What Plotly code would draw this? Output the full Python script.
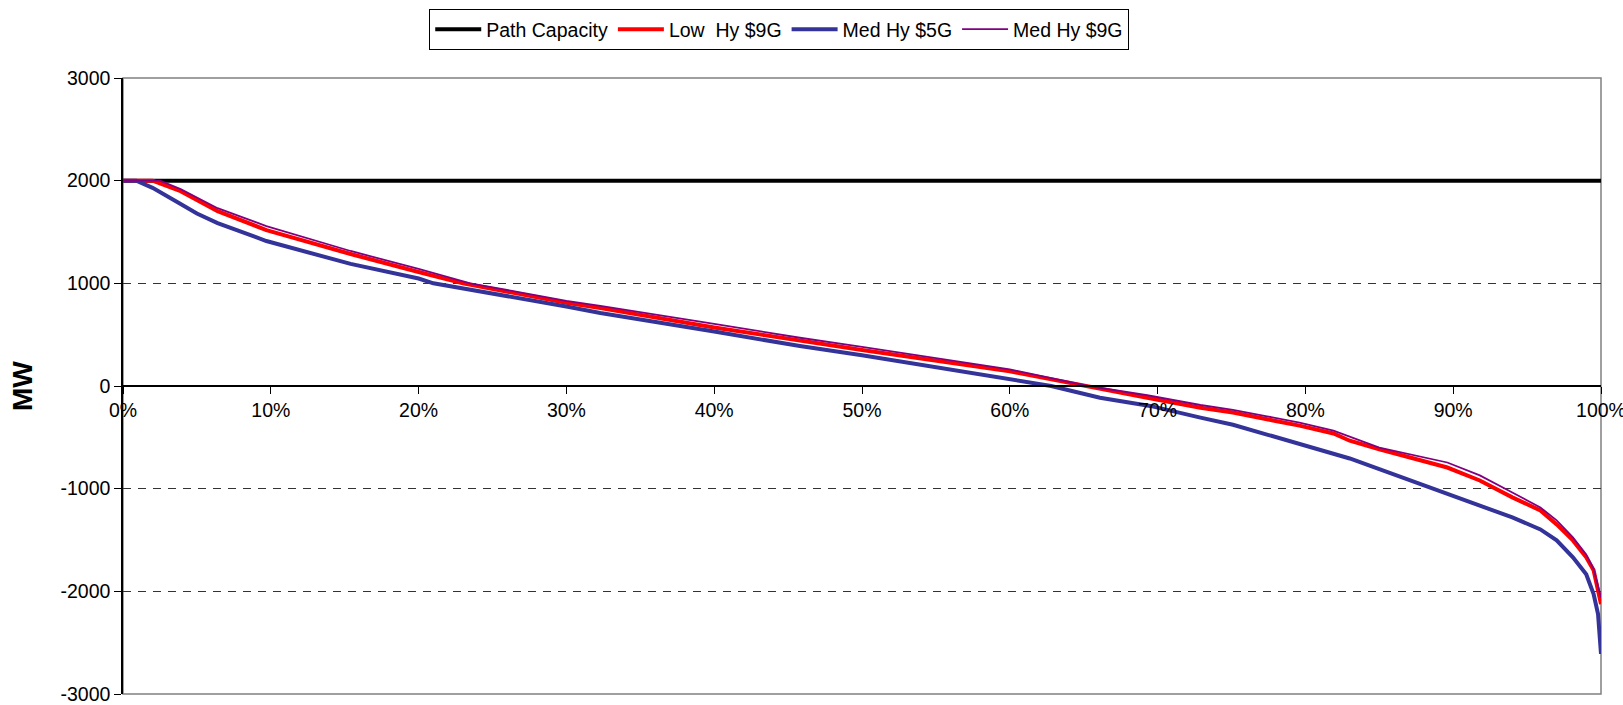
import plotly.graph_objects as go

# Share of hours (%) on the x axis, flow in MW on the y axis
cap_pct = [0, 100]
cap_mw = [2000, 2000]

low9_pct = [0, 2.0, 3.9, 6.4, 9.7, 15.4, 20, 23, 30, 32.3, 40, 45.8, 50, 60, 65, 69.3,
            72.9, 75.1, 77.4, 79.6, 81.9, 83, 85, 89.6, 91.8, 94, 95.9, 97, 98.1, 99, 99.5, 100]
low9_mw = [2000, 2000, 1898, 1704, 1519, 1286, 1110, 1000, 810, 760, 570, 440, 350, 143, 0, -114,
           -211, -259, -324, -386, -463, -533, -616, -794, -920, -1085, -1212, -1348, -1504, -1668, -1795, -2125]

med5_pct = [0, 0.9, 2.0, 3.0, 3.6, 3.9, 5.0, 6.4, 9.7, 15.4, 20, 21, 30, 32.3, 40, 45.8, 50, 60, 62.8, 66.1,
            69.5, 72.9, 75.1, 77.4, 79.6, 81.9, 83, 85, 89.6, 91.8, 94, 95.9, 97, 98.1, 99, 99.5, 99.8, 100]
med5_mw = [2000, 2000, 1930, 1850, 1805, 1772, 1680, 1587, 1412, 1189, 1047, 1000, 775, 711, 530, 390, 300, 70, 0, -114,
           -194, -308, -378, -473, -567, -665, -706, -810, -1047, -1164, -1280, -1397, -1504, -1668, -1833, -2027, -2222, -2610]

med9_pct = [0, 2.5, 3.9, 6.4, 9.7, 15.4, 20, 23.5, 30, 32.3, 40, 45.8, 50, 60, 65.3, 69.3,
            72.9, 75.1, 77.4, 79.6, 81.9, 83, 85, 89.6, 91.8, 94, 95.9, 97, 98.1, 99, 99.5, 100]
med9_mw = [2000, 2000, 1917, 1732, 1558, 1315, 1140, 1000, 830, 780, 605, 470, 382, 162, 0, -90,
           -185, -232, -295, -357, -435, -495, -600, -745, -871, -1037, -1183, -1309, -1474, -1640, -1780, -2060]

y_ticks = [-3000, -2000, -1000, 0, 1000, 2000, 3000]
y_labels = ["-3000", "-2000", "-1000", "0", "1000", "2000", "3000"]
x_ticks = [0, 10, 20, 30, 40, 50, 60, 70, 80, 90, 100]
x_labels = ["0%", "10%", "20%", "30%", "40%", "50%", "60%", "70%", "80%", "90%", "100%"]

FONT = "Liberation Sans, Arial, sans-serif"

fig = go.Figure()
fig.add_trace(go.Scatter(x=cap_pct, y=cap_mw, mode="lines", name="Path Capacity",
                         line=dict(color="#000000", width=4)))
fig.add_trace(go.Scatter(x=low9_pct, y=low9_mw, mode="lines", name="Low  Hy $9G",
                         line=dict(color="#FF0000", width=4)))
fig.add_trace(go.Scatter(x=med5_pct, y=med5_mw, mode="lines", name="Med Hy $5G",
                         line=dict(color="#333399", width=4)))
fig.add_trace(go.Scatter(x=med9_pct, y=med9_mw, mode="lines", name="Med Hy $9G",
                         line=dict(color="#800080", width=1.8)))

fig.update_layout(
    width=1623, height=705,
    margin=dict(l=123, r=22, t=78, b=11, autoexpand=False),
    paper_bgcolor="white", plot_bgcolor="white",
    font=dict(family=FONT, size=19.5, color="#000000"),
    showlegend=True,
    legend=dict(orientation="h", x=0.444, xanchor="center", y=1.112, yanchor="top",
                bordercolor="#000000", borderwidth=1, bgcolor="white",
                font=dict(family=FONT, size=19.5), itemwidth=46, tracegroupgap=0),
    xaxis=dict(range=[0, 100], tickvals=x_ticks, ticktext=x_labels,
               anchor="free", position=0.5, showline=True, linecolor="#000000", linewidth=1.5,
               ticks="outside", ticklen=7, tickcolor="#000000", tickwidth=1,
               showgrid=False, zeroline=False, tickfont=dict(size=19.5),
               ticklabeloverflow="allow"),
    yaxis=dict(range=[-3000, 3000], tickvals=y_ticks, ticktext=y_labels,
               showline=True, linecolor="#000000", linewidth=1.5,
               ticks="outside", ticklen=7, tickcolor="#000000", tickwidth=1,
               showgrid=True, gridcolor="#333333", gridwidth=1, griddash="8px,7px",
               zeroline=False, tickfont=dict(size=19.5), ticklabeloverflow="allow"),
    shapes=[dict(type="rect", xref="x domain", yref="y domain", x0=0, x1=1, y0=0, y1=1,
                 line=dict(color="#808080", width=1.5), layer="below")],
    annotations=[dict(text="<b>MW</b>", xref="paper", yref="paper", x=-0.0683, y=0.5,
                      xanchor="center", yanchor="middle", textangle=-90, showarrow=False,
                      font=dict(family=FONT, size=28))],
)

fig.write_html("out.html")
